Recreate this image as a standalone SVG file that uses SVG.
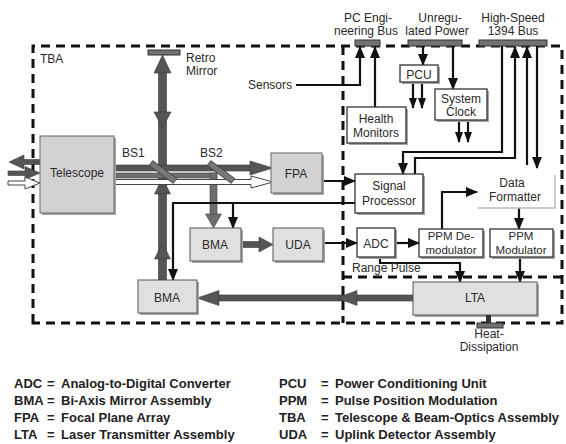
<svg xmlns="http://www.w3.org/2000/svg" width="566" height="444" viewBox="0 0 566 444">
<defs>
<marker id="ah" markerUnits="userSpaceOnUse" markerWidth="12" markerHeight="10" refX="11" refY="5" orient="auto"><path d="M0,0 L12,5 L0,10 z" fill="#111"/></marker>
<marker id="ah2" markerUnits="userSpaceOnUse" markerWidth="11" markerHeight="8" refX="10" refY="4" orient="auto"><path d="M0,0 L11,4 L0,8 z" fill="#111"/></marker>
</defs>
<style>
text{font-family:"Liberation Sans",Arial,sans-serif;font-size:12px;fill:#2a2a2a}
.c{text-anchor:middle}
.s{font-size:11.5px}
.lg{font-weight:bold;font-size:13px;fill:#222}
.gbox{fill:#d2d2d2;stroke:#666;stroke-width:1}
.lbox{fill:#e0e0e0;stroke:#555;stroke-width:1}
.wbox{fill:#fff;stroke:#333;stroke-width:1.3}
.sh{fill:#a5a5a5}
.dash{fill:none;stroke:#111;stroke-width:3;stroke-dasharray:9,6}
.sig{fill:none;stroke:#111;stroke-width:2.2}
.beam{fill:#555;stroke:#3a3a3a;stroke-width:0.6}
.beam2{fill:#6e6e6e;stroke:#444;stroke-width:0.6}
.wbeam{fill:#fff;stroke:#444;stroke-width:1}
.bus{fill:#727272;stroke:#333;stroke-width:1}
.slab{fill:#777;stroke:#333;stroke-width:0.8}
</style>
<rect width="566" height="444" fill="#fff"/>

<g id="enclosures">
<path class="dash" d="M33,323 V46 H562 V323 Z"/>
<line class="dash" x1="343" y1="46" x2="343" y2="323"/>
<line class="dash" x1="343" y1="277" x2="562" y2="277"/>
<text x="40" y="63">TBA</text>
</g>

<g id="buses">
<g id="pc-bus"><rect class="bus" x="355" y="40" width="25" height="6"/><text class="c" x="368" y="22">PC Engi-</text><text class="c" x="366" y="35">neering Bus</text></g>
<g id="power-bus"><rect class="bus" x="408" y="40" width="54" height="6"/><text class="c" x="440" y="22">Unregu-</text><text class="c" x="437" y="35">lated Power</text></g>
<g id="hs-bus"><rect class="bus" x="479" y="40" width="68" height="6"/><text class="c" x="513" y="22">High-Speed</text><text class="c" x="513" y="35">1394 Bus</text></g>
</g>

<g id="connectors">
<rect class="beam" x="158.5" y="72" width="8" height="208"/>
<polygon class="beam" points="162.5,55 154,73 171,73"/>
<polygon class="beam" points="154,112 171,112 162.5,128"/>
<polygon class="beam" points="162.5,178 154.5,194 170.5,194"/>
<polygon class="beam" points="162.5,243 154.5,259 170.5,259"/>
<rect class="beam" x="114" y="165" width="137" height="6"/>
<polygon class="beam" points="250,161 273,168 250,175"/>
<rect class="beam2" x="114" y="173" width="103" height="5"/>
<rect class="beam2" x="210" y="173" width="7" height="42"/>
<polygon class="beam2" points="205.5,214 221.5,214 213.5,228"/>
<path class="wbeam" d="M114,179.5 H251 V176 L273,182 L251,188 V184.5 H114"/>
<polygon class="beam" points="40,159.5 24,159.5 24,155 9,162 24,169 24,164.5 40,164.5"/>
<polygon class="beam" points="8,171 25,171 25,166.5 40,173 25,179.5 25,175.5 8,175.5"/>
<polygon class="wbeam" points="8,181 25,181 25,177 40,183 25,189 25,185 8,185"/>
<rect class="beam" x="241" y="241.5" width="19" height="6"/>
<polygon class="beam" points="259,237 273,244.5 259,252"/>
<rect class="beam" x="214" y="295" width="199" height="6"/>
<polygon class="beam" points="337,298 357,290.5 357,305.5"/>
<polygon class="beam" points="197,298 219,290.5 219,305.5"/>
<polyline class="sig" points="296,85 360,85 360,47" marker-end="url(#ah)"/>
<line class="sig" x1="375" y1="107" x2="375" y2="47" marker-end="url(#ah)"/>
<line class="sig" x1="423" y1="46" x2="423" y2="65" marker-end="url(#ah)"/>
<line class="sig" x1="453" y1="46" x2="453" y2="89" marker-end="url(#ah)"/>
<line class="sig" x1="413" y1="82" x2="413" y2="108" marker-end="url(#ah2)"/>
<line class="sig" x1="422" y1="82" x2="422" y2="108" marker-end="url(#ah2)"/>
<line class="sig" x1="459" y1="120" x2="459" y2="142" marker-end="url(#ah2)"/>
<line class="sig" x1="468" y1="120" x2="468" y2="142" marker-end="url(#ah2)"/>
<polyline class="sig" points="502,46 502,152 403,152 403,174" marker-end="url(#ah)"/>
<polyline class="sig" points="415,174 415,158 515,158 515,47" marker-end="url(#ah)"/>
<line class="sig" x1="527" y1="165" x2="527" y2="47" marker-end="url(#ah)"/>
<line class="sig" x1="537" y1="46" x2="537" y2="168" marker-end="url(#ah)"/>
<line class="sig" x1="322" y1="181" x2="355" y2="181" marker-end="url(#ah)"/>
<polyline class="sig" points="355,203 173,203 173,280" marker-end="url(#ah)"/>
<line class="sig" x1="233" y1="203" x2="233" y2="228" marker-end="url(#ah)"/>
<line class="sig" x1="323" y1="243" x2="357" y2="243" marker-end="url(#ah)"/>
<line class="sig" x1="395" y1="243" x2="419" y2="243" marker-end="url(#ah)"/>
<polyline class="sig" points="442,229 442,192 477,192" marker-end="url(#ah)"/>
<line class="sig" x1="519" y1="208" x2="519" y2="229" marker-end="url(#ah)"/>
<polyline class="sig" points="380,257 380,263 460,263 460,282" marker-end="url(#ah)"/>
<line class="sig" x1="520" y1="257" x2="520" y2="282" marker-end="url(#ah)"/>
</g>

<g id="retro-mirror"><rect class="bus" x="148" y="50" width="32" height="5"/><text x="186" y="62">Retro</text><text x="186" y="75">Mirror</text></g>
<g id="bs1"><polygon class="slab" points="152.8,160.6 176.8,178.6 173.2,183.4 149.2,165.4"/><text x="122" y="157">BS1</text></g>
<g id="bs2"><polygon class="slab" points="210.8,160.6 234.8,178.6 231.2,183.4 207.2,165.4"/><text x="200" y="157">BS2</text></g>

<g id="telescope"><rect class="sh" x="42" y="138" width="74" height="77"/><rect class="gbox" x="40" y="136" width="74" height="77"/><text class="c" x="77" y="177">Telescope</text></g>
<g id="fpa"><rect class="sh" x="273" y="155" width="51" height="40"/><rect class="gbox" x="271" y="153" width="51" height="40"/><text class="c" x="296" y="178">FPA</text></g>
<g id="bma-small"><rect class="sh" x="192" y="230" width="51" height="33"/><rect class="lbox" x="190" y="228" width="51" height="33"/><text class="c" x="215" y="249">BMA</text></g>
<g id="uda"><rect class="sh" x="275" y="230" width="50" height="33"/><rect class="lbox" x="273" y="228" width="50" height="33"/><text class="c" x="298" y="249">UDA</text></g>
<g id="bma-large"><rect class="sh" x="140" y="282" width="59" height="33"/><rect class="lbox" x="138" y="280" width="59" height="33"/><text class="c" x="167" y="302">BMA</text></g>
<g id="lta"><rect class="sh" x="415" y="284" width="124" height="33"/><rect class="lbox" x="413" y="282" width="124" height="33"/><text class="c" x="475" y="302">LTA</text></g>

<g id="signal-processor"><rect class="sh" x="357" y="176" width="68" height="39"/><rect class="wbox" x="355" y="174" width="68" height="39"/><text class="c" x="389" y="190">Signal</text><text class="c" x="389" y="205">Processor</text></g>
<g id="adc"><rect class="sh" x="359" y="230" width="38" height="29"/><rect class="wbox" x="357" y="228" width="38" height="29"/><text class="c" x="376" y="248">ADC</text></g>
<g id="ppm-demod"><rect class="sh" x="421" y="231" width="64" height="28"/><rect class="wbox" x="419" y="229" width="64" height="28"/><text class="c s" x="451" y="240">PPM De-</text><text class="c s" x="451" y="253.5">modulator</text></g>
<g id="ppm-mod"><rect class="sh" x="492" y="231" width="63" height="28"/><rect class="wbox" x="490" y="229" width="63" height="28"/><text class="c s" x="521" y="240">PPM</text><text class="c s" x="521" y="253.5">Modulator</text></g>
<g id="data-formatter"><polyline points="555,175 555,208 478,208" fill="none" stroke="#bbb" stroke-width="1.5"/><text class="c" x="512" y="187">Data</text><text class="c" x="515" y="201">Formatter</text></g>
<g id="health-monitors"><rect class="sh" x="349" y="109" width="59" height="36"/><rect class="wbox" x="347" y="107" width="59" height="36"/><text class="c" x="376" y="123">Health</text><text class="c" x="376" y="137">Monitors</text></g>
<g id="pcu"><rect class="sh" x="402" y="67" width="38" height="17"/><rect class="wbox" x="400" y="65" width="38" height="17"/><text class="c" x="419" y="79">PCU</text></g>
<g id="system-clock"><rect class="sh" x="437" y="91" width="52" height="31"/><rect class="wbox" x="435" y="89" width="52" height="31"/><text class="c" x="461" y="103">System</text><text class="c" x="461" y="116">Clock</text></g>
<g id="sensors"><text x="292" y="89" text-anchor="end">Sensors</text></g>
<g id="range-pulse"><text x="352" y="272">Range Pulse</text></g>
<g id="heat"><rect x="486" y="315" width="5" height="9" fill="#333"/><rect class="bus" x="477" y="323" width="26" height="5"/><text class="c" x="489" y="338">Heat-</text><text class="c" x="489" y="351">Dissipation</text></g>

<g id="legend">
<text class="lg" x="14" y="388">ADC</text><text class="lg" x="47" y="388">=</text><text class="lg" x="61" y="388">Analog-to-Digital Converter</text>
<text class="lg" x="14" y="405">BMA</text><text class="lg" x="47" y="405">=</text><text class="lg" x="61" y="405">Bi-Axis Mirror Assembly</text>
<text class="lg" x="14" y="422">FPA</text><text class="lg" x="47" y="422">=</text><text class="lg" x="61" y="422">Focal Plane Array</text>
<text class="lg" x="14" y="439">LTA</text><text class="lg" x="47" y="439">=</text><text class="lg" x="61" y="439">Laser Transmitter Assembly</text>
<text class="lg" x="279" y="388">PCU</text><text class="lg" x="321" y="388">=</text><text class="lg" x="335" y="388">Power Conditioning Unit</text>
<text class="lg" x="279" y="405">PPM</text><text class="lg" x="321" y="405">=</text><text class="lg" x="335" y="405">Pulse Position Modulation</text>
<text class="lg" x="279" y="422">TBA</text><text class="lg" x="321" y="422">=</text><text class="lg" x="335" y="422">Telescope &amp; Beam-Optics Assembly</text>
<text class="lg" x="279" y="439">UDA</text><text class="lg" x="321" y="439">=</text><text class="lg" x="335" y="439">Uplink Detector Assembly</text>
</g>
</svg>
